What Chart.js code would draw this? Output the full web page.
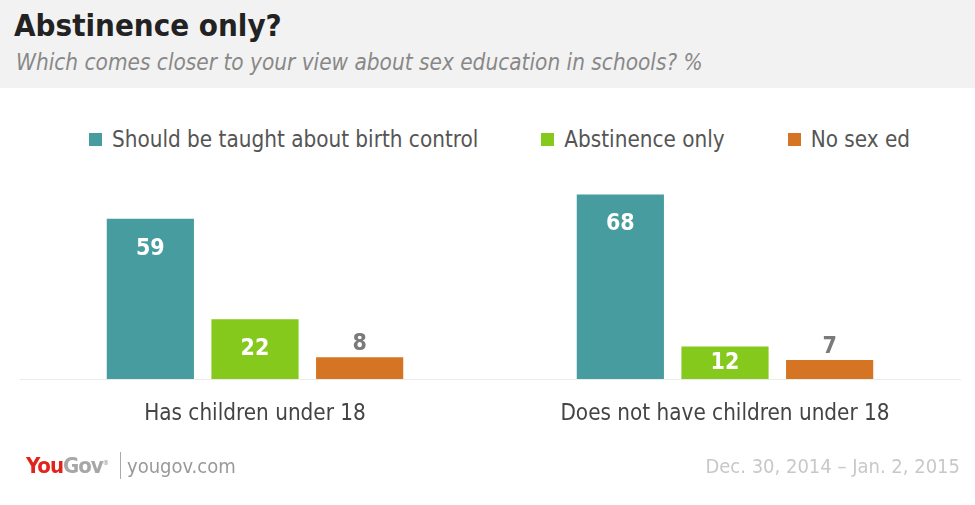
<!DOCTYPE html>
<html>
<head>
<meta charset="utf-8">
<script src="https://cdn.jsdelivr.net/npm/chart.js@4"></script>
<style>
  html, body { margin:0; padding:0; background:#fff; width:975px; height:505px; overflow:hidden; }
  body { position:relative; font-family:"DejaVu Sans Condensed","Liberation Sans",sans-serif; }
  #header { position:absolute; left:0; top:0; width:975px; height:88px; background:#f2f2f2; }
  #title { position:absolute; left:14px; top:7px; font-size:31px; font-weight:bold; color:#222; white-space:nowrap; }
  #subtitle { position:absolute; left:16px; top:49px; font-size:22.4px; font-style:italic; color:#888; white-space:nowrap; }
  #legend { position:absolute; left:89px; top:126px; display:flex; gap:63px; white-space:nowrap; }
  .li { display:flex; align-items:center; font-size:22.3px; color:#555; }
  .sw { width:13px; height:13px; margin-right:10px; }
  #wrap { position:absolute; left:0; top:160px; width:975px; height:300px; }
  #logo { position:absolute; left:26px; top:453px; font-size:22px; font-weight:bold; letter-spacing:-1px; white-space:nowrap; }
  #sep { position:absolute; left:120px; top:452px; width:1px; height:27px; background:#aaa; }
  #site { position:absolute; left:127px; top:454px; font-size:20px; color:#999; white-space:nowrap; }
  #date { position:absolute; right:15px; top:454px; font-size:20px; color:#c8c8c8; white-space:nowrap; }
</style>
</head>
<body>
<div id="header">
  <div id="title">Abstinence only?</div>
  <div id="subtitle">Which comes closer to your view about sex education in schools? %</div>
</div>
<div id="legend"></div>
<div id="wrap"><canvas id="c" width="975" height="300"></canvas></div>
<div id="logo"><span style="color:#e2231a">You</span><span style="color:#a7a7a7">Gov</span><sup style="font-size:7px;color:#aaa">®</sup></div>
<div id="sep"></div>
<div id="site">yougov.com</div>
<div id="date">Dec. 30, 2014 – Jan. 2, 2015</div>
<script>
const categories = ["Has children under 18", "Does not have children under 18"];
const seriesNames = ["Should be taught about birth control", "Abstinence only", "No sex ed"];
const birthControl = [59, 68];
const abstinenceOnly = [22, 12];
const noSexEd = [8, 7];
const seriesColors = ["#469c9e", "#85c91c", "#d57523"];

const seriesValues = [birthControl, abstinenceOnly, noSexEd];

// HTML legend
const legend = document.getElementById('legend');
seriesNames.forEach((n, i) => {
  const d = document.createElement('div'); d.className = 'li';
  const s = document.createElement('div'); s.className = 'sw'; s.style.background = seriesColors[i];
  d.appendChild(s); d.appendChild(document.createTextNode(n));
  legend.appendChild(d);
});

const labelPlugin = {
  id: 'valueLabels',
  afterDatasetsDraw(chart) {
    const ctx = chart.ctx;
    ctx.save();
    ctx.textAlign = 'center';
    ctx.textBaseline = 'middle';
    ctx.font = 'bold 23px "DejaVu Sans Condensed",sans-serif';
    chart.data.datasets.forEach((ds, di) => {
      chart.getDatasetMeta(di).data.forEach((bar, i) => {
        const v = ds.data[i];
        if (v >= 10) {
          ctx.fillStyle = '#ffffff';
          const y = Math.min(bar.y + 30, (bar.y + bar.base) / 2);
          ctx.fillText(String(v), bar.x, y);
        } else {
          ctx.fillStyle = '#7a7a7a';
          ctx.fillText(String(v), bar.x, bar.y - 13);
        }
      });
    });
    ctx.restore();
  }
};

new Chart(document.getElementById('c'), {
  type: 'bar',
  data: {
    labels: categories,
    datasets: seriesNames.map((n, i) => ({
      label: n,
      data: seriesValues[i],
      backgroundColor: seriesColors[i],
      borderWidth: 0,
      categoryPercentage: 0.668,
      barPercentage: 0.833
    }))
  },
  options: {
    responsive: false,
    animation: false,
    devicePixelRatio: 1,
    layout: { padding: { left: 20, right: 15, top: 10, bottom: 0 } },
    plugins: { legend: { display: false }, tooltip: { enabled: false } },
    scales: {
      x: {
        grid: { display: false, drawTicks: false },
        border: { display: true, color: '#ebebeb', width: 1 },
        ticks: { color: '#444', padding: 22, font: { family: '"DejaVu Sans Condensed",sans-serif', size: 22.3 } },
        afterFit(scale) { scale.height = 81; }
      },
      y: {
        display: false,
        min: 0,
        max: 77
      }
    }
  },
  plugins: [labelPlugin]
});
</script>
</body>
</html>
